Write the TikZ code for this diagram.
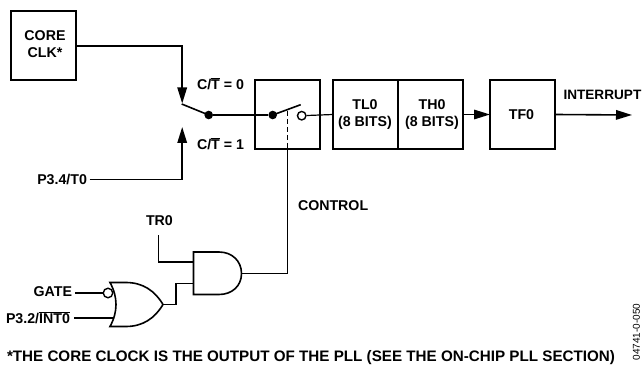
\documentclass[tikz,border=0pt]{standalone}
\usepackage{fontspec}
\setmainfont{Liberation Sans}
\usetikzlibrary{arrows.meta}
\tikzset{
 x=1pt,y=-1pt,
 wire/.style={line width=1.6pt,line join=miter},
 thin wire/.style={line width=1.2pt},
 blockbox/.style={draw,line width=1.6pt,minimum width=65pt,minimum height=69pt,inner sep=0pt,outer sep=0pt,align=center},
 lbl/.style={inner sep=0pt,outer sep=0pt,font=\fontsize{14.2}{17}\selectfont\bfseries,align=center},
 arrowed/.style={-{Triangle[length=16pt,width=9.5pt]}},
 dotnode/.style={circle,fill=black,inner sep=0pt,minimum size=8.6pt},
}
\begin{document}
\begin{tikzpicture}
\useasboundingbox (0,0) rectangle (642,366);
\node[blockbox] (core) at (43.3,45.3) {};
\node[lbl] at (45,44) {CORE\\CLK*};
\node[blockbox] (sw) at (287.3,114.5) {};
\node[blockbox] (tl) at (365.5,114.5) {};
\node[lbl] at (365,114.5) {TL0\\(8 BITS)};
\node[blockbox] (th) at (430.3,114.5) {};
\node[lbl] at (432,114.5) {TH0\\(8 BITS)};
\node[blockbox] (tf) at (522.5,114.5) {};
\node[lbl] at (521.5,114.5) {TF0};
% clock to switch
\coordinate (c1) at (182.2,46);
\coordinate (t0) at (182.2,103.5);
\coordinate (t1) at (182.2,127);
\coordinate (c2) at (182.2,179.5);
\node[lbl,anchor=east] (p34) at (87,179.5) {P3.4/T0};
\draw[wire,arrowed] (core.east|-c1) -- (c1) -- (t0);
\draw[wire,arrowed] (p34.east) ++(2.5,0) coordinate (p34e) -- (c2) -- (t1);
\node[dotnode] (d1) at (208.7,115) {};
\node[dotnode] (d2) at (272.7,115) {};
\node[draw,circle,line width=1.4pt,minimum size=8.5pt,inner sep=0pt] (o) at (301.7,115.7) {};
\coordinate (armend) at (181.7,104);
\draw[wire] (armend) -- (d1.center);
\draw[thin wire] (d1) -- (d2);
\coordinate (armtip) at (300.7,104.7);
\draw[wire] (d2.center) -- (armtip);
\draw[thin wire] (o) -- (tl.west);
\draw[wire,arrowed] (th.east) -- (tf.west);
\coordinate (intend) at (632,115);
\draw[wire,arrowed] (tf.east) -- (intend);
\node[lbl,anchor=west] at (197,84) {C/$\overline{\mbox{T}}$ = 0};
\node[lbl,anchor=west] at (197,144) {C/$\overline{\mbox{T}}$ = 1};
\node[lbl,anchor=west,font=\fontsize{13.6}{17}\selectfont\bfseries] at (563.5,94.5) {INTERRUPT};
\node[lbl,anchor=west] at (298,205.5) {CONTROL};
\node[lbl,anchor=west] at (146,221) {TR0};
% dashed link
\coordinate (dtop) at (287.3,111);
\coordinate (dbot) at (287.3,149);
\coordinate (ctlturn) at (287.3,273.5);
\draw[line width=1.2pt,dash pattern=on 5pt off 3pt] (dtop) -- (dbot);
% AND gate
\coordinate (andtl) at (193.5,252);
\coordinate (andbl) at (193.5,294.5);
\coordinate (andout) at (241.5,273.5);
\draw[wire] (andtl) -- (219,252) .. controls (232,252) and (241.5,261) .. (andout) .. controls (241.5,286) and (232,294.5) .. (219,294.5) -- (andbl) -- cycle;
\draw[wire] (andout) -- (ctlturn) -- (dbot);
\coordinate (trb) at (158.5,235);
\coordinate (andi1) at (193.5,262);
\coordinate (andi2) at (193.5,283.5);
\draw[wire] (trb) -- (158.5,262) -- (andi1);
% OR gate
\coordinate (ortl) at (110,282.5);
\coordinate (orbl) at (110,326.5);
\coordinate (orout) at (163,304.5);
\draw[wire] (ortl) -- (126,282.5) .. controls (143,282.5) and (155,291) .. (orout) .. controls (155,318) and (143,326.5) .. (126,326.5) -- (orbl) .. controls (118,312) and (118,297) .. (ortl) -- cycle;
\draw[wire] (orout) -- (176,304.5) -- (176,283.5) -- (andi2);
\node[draw,circle,line width=1.4pt,minimum size=9.5pt,inner sep=0pt,fill=white] (bub) at (108,293) {};
\node[lbl,anchor=east] (gate) at (72,292) {GATE};
\node[lbl,anchor=west] (p32) at (6,318) {P3.2/$\overline{\mbox{INT0}}$};
\coordinate (ge) at (75,293);
\draw[wire] (ge) -- (bub.west);
\coordinate (pe) at (74,318);
\coordinate (orin) at (113.5,318);
\draw[wire] (pe) -- (orin);
\node[lbl,anchor=west,font=\fontsize{15.2}{17}\selectfont\bfseries] at (7,358) {*THE CORE CLOCK IS THE OUTPUT OF THE PLL (SEE THE ON-CHIP PLL SECTION)};
\node[inner sep=0pt,rotate=90,font=\fontsize{10}{11}\selectfont] at (636.5,332) {04741-0-050};
\end{tikzpicture}
\end{document}
